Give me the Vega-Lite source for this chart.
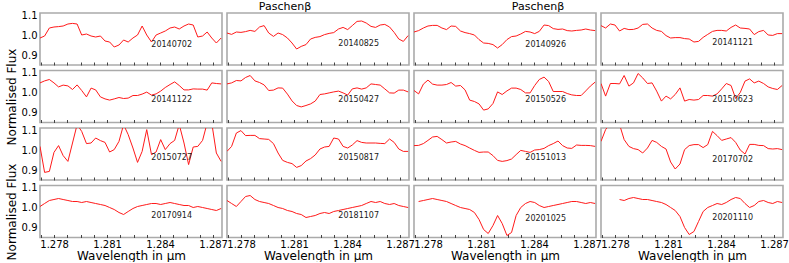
{
"$schema":"https://vega.github.io/schema/vega-lite/v6.json",
"background":"white",
"padding":{"left":4,"top":0,"right":0,"bottom":0},
"datasets":{
"labels":[
{"date":"20140702","wl":1.2835,"flux":0.95},{"date":"20140825","wl":1.2835,"flux":0.957},{"date":"20140926","wl":1.2835,"flux":0.95},{"date":"20141121","wl":1.2835,"flux":0.96},
{"date":"20141122","wl":1.2835,"flux":0.962},{"date":"20150427","wl":1.2835,"flux":0.965},{"date":"20150526","wl":1.2835,"flux":0.965},{"date":"20150623","wl":1.2835,"flux":0.965},
{"date":"20150727","wl":1.2835,"flux":0.96},{"date":"20150817","wl":1.2835,"flux":0.96},{"date":"20151013","wl":1.2835,"flux":0.96},{"date":"20170702","wl":1.2835,"flux":0.95},
{"date":"20170914","wl":1.2835,"flux":0.96},{"date":"20181107","wl":1.2835,"flux":0.96},{"date":"20201025","wl":1.2835,"flux":0.945},{"date":"20201110","wl":1.2835,"flux":0.95}
],
"spectra":[
{"date":"20140702","wl":1.2772,"flux":0.985},{"date":"20140702","wl":1.27746,"flux":0.995},{"date":"20140702","wl":1.27773,"flux":1.035},{"date":"20140702","wl":1.27799,"flux":1.04},{"date":"20140702","wl":1.27825,"flux":1.042},{"date":"20140702","wl":1.27851,"flux":1.045},{"date":"20140702","wl":1.27878,"flux":1.055},{"date":"20140702","wl":1.27904,"flux":1.058},{"date":"20140702","wl":1.2793,"flux":1.055},{"date":"20140702","wl":1.27956,"flux":1.0},{"date":"20140702","wl":1.27983,"flux":1.005},{"date":"20140702","wl":1.28009,"flux":0.995},{"date":"20140702","wl":1.28035,"flux":0.99},{"date":"20140702","wl":1.28062,"flux":0.995},{"date":"20140702","wl":1.28088,"flux":0.97},{"date":"20140702","wl":1.28114,"flux":0.965},{"date":"20140702","wl":1.2814,"flux":0.94},{"date":"20140702","wl":1.28167,"flux":0.95},{"date":"20140702","wl":1.28193,"flux":0.975},{"date":"20140702","wl":1.28219,"flux":0.965},{"date":"20140702","wl":1.28246,"flux":0.985},{"date":"20140702","wl":1.28272,"flux":1.0},{"date":"20140702","wl":1.28298,"flux":1.045},{"date":"20140702","wl":1.28324,"flux":1.0},{"date":"20140702","wl":1.28351,"flux":0.965},{"date":"20140702","wl":1.28377,"flux":1.0},{"date":"20140702","wl":1.28403,"flux":1.01},{"date":"20140702","wl":1.28429,"flux":1.02},{"date":"20140702","wl":1.28456,"flux":1.035},{"date":"20140702","wl":1.28482,"flux":1.04},{"date":"20140702","wl":1.28508,"flux":1.03},{"date":"20140702","wl":1.28535,"flux":1.045},{"date":"20140702","wl":1.28561,"flux":1.055},{"date":"20140702","wl":1.28587,"flux":1.05},{"date":"20140702","wl":1.28613,"flux":0.99},{"date":"20140702","wl":1.2864,"flux":0.995},{"date":"20140702","wl":1.28666,"flux":1.015},{"date":"20140702","wl":1.28692,"flux":0.985},{"date":"20140702","wl":1.28718,"flux":0.96},{"date":"20140702","wl":1.28745,"flux":0.985},
{"date":"20140825","wl":1.2772,"flux":1.01},{"date":"20140825","wl":1.27746,"flux":1.003},{"date":"20140825","wl":1.27773,"flux":1.015},{"date":"20140825","wl":1.27799,"flux":1.013},{"date":"20140825","wl":1.27825,"flux":1.017},{"date":"20140825","wl":1.27851,"flux":1.023},{"date":"20140825","wl":1.27878,"flux":1.018},{"date":"20140825","wl":1.27904,"flux":1.04},{"date":"20140825","wl":1.2793,"flux":1.047},{"date":"20140825","wl":1.27956,"flux":1.01},{"date":"20140825","wl":1.27983,"flux":0.993},{"date":"20140825","wl":1.28009,"flux":1.01},{"date":"20140825","wl":1.28035,"flux":1.002},{"date":"20140825","wl":1.28062,"flux":0.985},{"date":"20140825","wl":1.28088,"flux":0.96},{"date":"20140825","wl":1.28114,"flux":0.93},{"date":"20140825","wl":1.2814,"flux":0.943},{"date":"20140825","wl":1.28167,"flux":0.952},{"date":"20140825","wl":1.28193,"flux":0.98},{"date":"20140825","wl":1.28219,"flux":0.988},{"date":"20140825","wl":1.28246,"flux":0.992},{"date":"20140825","wl":1.28272,"flux":1.002},{"date":"20140825","wl":1.28298,"flux":1.008},{"date":"20140825","wl":1.28324,"flux":1.012},{"date":"20140825","wl":1.28351,"flux":1.03},{"date":"20140825","wl":1.28377,"flux":1.038},{"date":"20140825","wl":1.28403,"flux":1.027},{"date":"20140825","wl":1.28429,"flux":1.047},{"date":"20140825","wl":1.28456,"flux":1.068},{"date":"20140825","wl":1.28482,"flux":1.07},{"date":"20140825","wl":1.28508,"flux":1.06},{"date":"20140825","wl":1.28535,"flux":1.043},{"date":"20140825","wl":1.28561,"flux":1.038},{"date":"20140825","wl":1.28587,"flux":1.05},{"date":"20140825","wl":1.28613,"flux":1.053},{"date":"20140825","wl":1.2864,"flux":1.04},{"date":"20140825","wl":1.28666,"flux":1.013},{"date":"20140825","wl":1.28692,"flux":0.98},{"date":"20140825","wl":1.28718,"flux":0.968},{"date":"20140825","wl":1.28745,"flux":0.997},
{"date":"20140926","wl":1.2772,"flux":1.015},{"date":"20140926","wl":1.27746,"flux":1.022},{"date":"20140926","wl":1.27773,"flux":1.035},{"date":"20140926","wl":1.27799,"flux":1.045},{"date":"20140926","wl":1.27825,"flux":1.048},{"date":"20140926","wl":1.27851,"flux":1.048},{"date":"20140926","wl":1.27878,"flux":1.035},{"date":"20140926","wl":1.27904,"flux":1.027},{"date":"20140926","wl":1.2793,"flux":1.045},{"date":"20140926","wl":1.27956,"flux":1.043},{"date":"20140926","wl":1.27983,"flux":1.02},{"date":"20140926","wl":1.28009,"flux":1.012},{"date":"20140926","wl":1.28035,"flux":1.007},{"date":"20140926","wl":1.28062,"flux":1.0},{"date":"20140926","wl":1.28088,"flux":0.977},{"date":"20140926","wl":1.28114,"flux":0.96},{"date":"20140926","wl":1.2814,"flux":0.958},{"date":"20140926","wl":1.28167,"flux":0.952},{"date":"20140926","wl":1.28193,"flux":0.935},{"date":"20140926","wl":1.28219,"flux":0.952},{"date":"20140926","wl":1.28246,"flux":0.977},{"date":"20140926","wl":1.28272,"flux":0.992},{"date":"20140926","wl":1.28298,"flux":0.995},{"date":"20140926","wl":1.28324,"flux":1.005},{"date":"20140926","wl":1.28351,"flux":1.018},{"date":"20140926","wl":1.28377,"flux":1.015},{"date":"20140926","wl":1.28403,"flux":1.007},{"date":"20140926","wl":1.28429,"flux":1.018},{"date":"20140926","wl":1.28456,"flux":1.05},{"date":"20140926","wl":1.28482,"flux":1.047},{"date":"20140926","wl":1.28508,"flux":1.032},{"date":"20140926","wl":1.28535,"flux":1.028},{"date":"20140926","wl":1.28561,"flux":1.03},{"date":"20140926","wl":1.28587,"flux":1.022},{"date":"20140926","wl":1.28613,"flux":1.02},{"date":"20140926","wl":1.2864,"flux":1.023},{"date":"20140926","wl":1.28666,"flux":1.025},{"date":"20140926","wl":1.28692,"flux":1.03},{"date":"20140926","wl":1.28718,"flux":1.025},{"date":"20140926","wl":1.28745,"flux":1.022},
{"date":"20141121","wl":1.2772,"flux":1.047},{"date":"20141121","wl":1.27746,"flux":1.035},{"date":"20141121","wl":1.27773,"flux":1.055},{"date":"20141121","wl":1.27799,"flux":1.05},{"date":"20141121","wl":1.27825,"flux":1.02},{"date":"20141121","wl":1.27851,"flux":1.033},{"date":"20141121","wl":1.27878,"flux":1.027},{"date":"20141121","wl":1.27904,"flux":1.028},{"date":"20141121","wl":1.2793,"flux":1.035},{"date":"20141121","wl":1.27956,"flux":1.053},{"date":"20141121","wl":1.27983,"flux":1.055},{"date":"20141121","wl":1.28009,"flux":1.035},{"date":"20141121","wl":1.28035,"flux":1.023},{"date":"20141121","wl":1.28062,"flux":1.018},{"date":"20141121","wl":1.28088,"flux":0.997},{"date":"20141121","wl":1.28114,"flux":0.985},{"date":"20141121","wl":1.2814,"flux":0.987},{"date":"20141121","wl":1.28167,"flux":0.987},{"date":"20141121","wl":1.28193,"flux":0.982},{"date":"20141121","wl":1.28219,"flux":0.98},{"date":"20141121","wl":1.28246,"flux":0.965},{"date":"20141121","wl":1.28272,"flux":0.968},{"date":"20141121","wl":1.28298,"flux":0.988},{"date":"20141121","wl":1.28324,"flux":1.003},{"date":"20141121","wl":1.28351,"flux":1.018},{"date":"20141121","wl":1.28377,"flux":1.023},{"date":"20141121","wl":1.28403,"flux":1.023},{"date":"20141121","wl":1.28429,"flux":1.02},{"date":"20141121","wl":1.28456,"flux":1.038},{"date":"20141121","wl":1.28482,"flux":1.05},{"date":"20141121","wl":1.28508,"flux":1.035},{"date":"20141121","wl":1.28535,"flux":1.033},{"date":"20141121","wl":1.28561,"flux":1.03},{"date":"20141121","wl":1.28587,"flux":1.002},{"date":"20141121","wl":1.28613,"flux":1.017},{"date":"20141121","wl":1.2864,"flux":1.023},{"date":"20141121","wl":1.28666,"flux":1.0},{"date":"20141121","wl":1.28692,"flux":0.998},{"date":"20141121","wl":1.28718,"flux":1.007},{"date":"20141121","wl":1.28745,"flux":1.007},
{"date":"20141122","wl":1.2772,"flux":1.048},{"date":"20141122","wl":1.27746,"flux":1.058},{"date":"20141122","wl":1.27773,"flux":1.065},{"date":"20141122","wl":1.27799,"flux":1.048},{"date":"20141122","wl":1.27825,"flux":1.028},{"date":"20141122","wl":1.27851,"flux":1.037},{"date":"20141122","wl":1.27878,"flux":1.033},{"date":"20141122","wl":1.27904,"flux":1.015},{"date":"20141122","wl":1.2793,"flux":1.038},{"date":"20141122","wl":1.27956,"flux":1.01},{"date":"20141122","wl":1.27983,"flux":0.978},{"date":"20141122","wl":1.28009,"flux":1.022},{"date":"20141122","wl":1.28035,"flux":1.013},{"date":"20141122","wl":1.28062,"flux":0.978},{"date":"20141122","wl":1.28088,"flux":0.968},{"date":"20141122","wl":1.28114,"flux":0.962},{"date":"20141122","wl":1.2814,"flux":0.968},{"date":"20141122","wl":1.28167,"flux":0.975},{"date":"20141122","wl":1.28193,"flux":0.97},{"date":"20141122","wl":1.28219,"flux":0.972},{"date":"20141122","wl":1.28246,"flux":0.985},{"date":"20141122","wl":1.28272,"flux":0.985},{"date":"20141122","wl":1.28298,"flux":0.992},{"date":"20141122","wl":1.28324,"flux":1.002},{"date":"20141122","wl":1.28351,"flux":0.987},{"date":"20141122","wl":1.28377,"flux":0.993},{"date":"20141122","wl":1.28403,"flux":1.007},{"date":"20141122","wl":1.28429,"flux":1.025},{"date":"20141122","wl":1.28456,"flux":1.04},{"date":"20141122","wl":1.28482,"flux":1.053},{"date":"20141122","wl":1.28508,"flux":1.035},{"date":"20141122","wl":1.28535,"flux":1.013},{"date":"20141122","wl":1.28561,"flux":1.013},{"date":"20141122","wl":1.28587,"flux":1.018},{"date":"20141122","wl":1.28613,"flux":1.017},{"date":"20141122","wl":1.2864,"flux":1.017},{"date":"20141122","wl":1.28666,"flux":1.012},{"date":"20141122","wl":1.28692,"flux":1.048},{"date":"20141122","wl":1.28718,"flux":1.045},{"date":"20141122","wl":1.28745,"flux":1.043},
{"date":"20150427","wl":1.2772,"flux":1.043},{"date":"20150427","wl":1.27746,"flux":1.048},{"date":"20150427","wl":1.27773,"flux":1.06},{"date":"20150427","wl":1.27799,"flux":1.058},{"date":"20150427","wl":1.27825,"flux":1.075},{"date":"20150427","wl":1.27851,"flux":1.085},{"date":"20150427","wl":1.27878,"flux":1.058},{"date":"20150427","wl":1.27904,"flux":1.05},{"date":"20150427","wl":1.2793,"flux":1.038},{"date":"20150427","wl":1.27956,"flux":1.01},{"date":"20150427","wl":1.27983,"flux":1.012},{"date":"20150427","wl":1.28009,"flux":1.023},{"date":"20150427","wl":1.28035,"flux":1.022},{"date":"20150427","wl":1.28062,"flux":0.992},{"date":"20150427","wl":1.28088,"flux":0.958},{"date":"20150427","wl":1.28114,"flux":0.935},{"date":"20150427","wl":1.2814,"flux":0.928},{"date":"20150427","wl":1.28167,"flux":0.935},{"date":"20150427","wl":1.28193,"flux":0.943},{"date":"20150427","wl":1.28219,"flux":0.957},{"date":"20150427","wl":1.28246,"flux":0.99},{"date":"20150427","wl":1.28272,"flux":0.993},{"date":"20150427","wl":1.28298,"flux":0.998},{"date":"20150427","wl":1.28324,"flux":1.003},{"date":"20150427","wl":1.28351,"flux":1.007},{"date":"20150427","wl":1.28377,"flux":0.998},{"date":"20150427","wl":1.28403,"flux":0.987},{"date":"20150427","wl":1.28429,"flux":1.018},{"date":"20150427","wl":1.28456,"flux":1.023},{"date":"20150427","wl":1.28482,"flux":1.017},{"date":"20150427","wl":1.28508,"flux":1.023},{"date":"20150427","wl":1.28535,"flux":1.043},{"date":"20150427","wl":1.28561,"flux":1.04},{"date":"20150427","wl":1.28587,"flux":1.037},{"date":"20150427","wl":1.28613,"flux":1.018},{"date":"20150427","wl":1.2864,"flux":0.998},{"date":"20150427","wl":1.28666,"flux":0.997},{"date":"20150427","wl":1.28692,"flux":1.012},{"date":"20150427","wl":1.28718,"flux":1.012},{"date":"20150427","wl":1.28745,"flux":1.003},
{"date":"20150526","wl":1.2772,"flux":1.01},{"date":"20150526","wl":1.27746,"flux":0.993},{"date":"20150526","wl":1.27773,"flux":1.042},{"date":"20150526","wl":1.27799,"flux":1.062},{"date":"20150526","wl":1.27825,"flux":1.042},{"date":"20150526","wl":1.27851,"flux":1.037},{"date":"20150526","wl":1.27878,"flux":1.037},{"date":"20150526","wl":1.27904,"flux":1.04},{"date":"20150526","wl":1.2793,"flux":1.05},{"date":"20150526","wl":1.27956,"flux":1.032},{"date":"20150526","wl":1.27983,"flux":1.035},{"date":"20150526","wl":1.28009,"flux":1.013},{"date":"20150526","wl":1.28035,"flux":0.962},{"date":"20150526","wl":1.28062,"flux":0.955},{"date":"20150526","wl":1.28088,"flux":0.943},{"date":"20150526","wl":1.28114,"flux":0.912},{"date":"20150526","wl":1.2814,"flux":0.918},{"date":"20150526","wl":1.28167,"flux":0.945},{"date":"20150526","wl":1.28193,"flux":1.003},{"date":"20150526","wl":1.28219,"flux":0.99},{"date":"20150526","wl":1.28246,"flux":1.008},{"date":"20150526","wl":1.28272,"flux":1.022},{"date":"20150526","wl":1.28298,"flux":1.022},{"date":"20150526","wl":1.28324,"flux":1.015},{"date":"20150526","wl":1.28351,"flux":0.998},{"date":"20150526","wl":1.28377,"flux":0.998},{"date":"20150526","wl":1.28403,"flux":1.035},{"date":"20150526","wl":1.28429,"flux":1.065},{"date":"20150526","wl":1.28456,"flux":1.077},{"date":"20150526","wl":1.28482,"flux":1.055},{"date":"20150526","wl":1.28508,"flux":1.005},{"date":"20150526","wl":1.28535,"flux":1.005},{"date":"20150526","wl":1.28561,"flux":1.005},{"date":"20150526","wl":1.28587,"flux":0.995},{"date":"20150526","wl":1.28613,"flux":0.988},{"date":"20150526","wl":1.2864,"flux":0.985},{"date":"20150526","wl":1.28666,"flux":0.985},{"date":"20150526","wl":1.28692,"flux":1.008},{"date":"20150526","wl":1.28718,"flux":1.032},{"date":"20150526","wl":1.28745,"flux":1.052},
{"date":"20150623","wl":1.2772,"flux":1.045},{"date":"20150623","wl":1.27746,"flux":0.982},{"date":"20150623","wl":1.27773,"flux":1.045},{"date":"20150623","wl":1.27799,"flux":1.045},{"date":"20150623","wl":1.27825,"flux":1.043},{"date":"20150623","wl":1.27851,"flux":1.085},{"date":"20150623","wl":1.27878,"flux":1.032},{"date":"20150623","wl":1.27904,"flux":1.048},{"date":"20150623","wl":1.2793,"flux":1.095},{"date":"20150623","wl":1.27956,"flux":1.073},{"date":"20150623","wl":1.27983,"flux":1.045},{"date":"20150623","wl":1.28009,"flux":1.048},{"date":"20150623","wl":1.28035,"flux":1.007},{"date":"20150623","wl":1.28062,"flux":0.957},{"date":"20150623","wl":1.28088,"flux":0.982},{"date":"20150623","wl":1.28114,"flux":0.968},{"date":"20150623","wl":1.2814,"flux":0.99},{"date":"20150623","wl":1.28167,"flux":1.023},{"date":"20150623","wl":1.28193,"flux":0.957},{"date":"20150623","wl":1.28219,"flux":0.965},{"date":"20150623","wl":1.28246,"flux":0.962},{"date":"20150623","wl":1.28272,"flux":0.965},{"date":"20150623","wl":1.28298,"flux":0.985},{"date":"20150623","wl":1.28324,"flux":0.985},{"date":"20150623","wl":1.28351,"flux":0.982},{"date":"20150623","wl":1.28377,"flux":0.993},{"date":"20150623","wl":1.28403,"flux":1.018},{"date":"20150623","wl":1.28429,"flux":1.045},{"date":"20150623","wl":1.28456,"flux":1.035},{"date":"20150623","wl":1.28482,"flux":0.97},{"date":"20150623","wl":1.28508,"flux":1.0},{"date":"20150623","wl":1.28535,"flux":1.057},{"date":"20150623","wl":1.28561,"flux":1.068},{"date":"20150623","wl":1.28587,"flux":1.048},{"date":"20150623","wl":1.28613,"flux":1.057},{"date":"20150623","wl":1.2864,"flux":1.045},{"date":"20150623","wl":1.28666,"flux":1.028},{"date":"20150623","wl":1.28692,"flux":1.02},{"date":"20150623","wl":1.28718,"flux":1.015},{"date":"20150623","wl":1.28745,"flux":1.035},
{"date":"20150727","wl":1.2772,"flux":1.018},{"date":"20150727","wl":1.27746,"flux":0.888},{"date":"20150727","wl":1.27773,"flux":0.893},{"date":"20150727","wl":1.27799,"flux":0.988},{"date":"20150727","wl":1.27825,"flux":1.022},{"date":"20150727","wl":1.27851,"flux":0.972},{"date":"20150727","wl":1.27878,"flux":0.943},{"date":"20150727","wl":1.27904,"flux":1.035},{"date":"20150727","wl":1.2793,"flux":1.127},{"date":"20150727","wl":1.27956,"flux":1.093},{"date":"20150727","wl":1.27983,"flux":1.032},{"date":"20150727","wl":1.28009,"flux":1.035},{"date":"20150727","wl":1.28035,"flux":1.06},{"date":"20150727","wl":1.28062,"flux":1.047},{"date":"20150727","wl":1.28088,"flux":1.038},{"date":"20150727","wl":1.28114,"flux":0.99},{"date":"20150727","wl":1.2814,"flux":1.002},{"date":"20150727","wl":1.28167,"flux":1.043},{"date":"20150727","wl":1.28193,"flux":1.127},{"date":"20150727","wl":1.28219,"flux":1.077},{"date":"20150727","wl":1.28246,"flux":1.01},{"date":"20150727","wl":1.28272,"flux":0.938},{"date":"20150727","wl":1.28298,"flux":0.993},{"date":"20150727","wl":1.28324,"flux":1.102},{"date":"20150727","wl":1.28351,"flux":0.977},{"date":"20150727","wl":1.28377,"flux":0.99},{"date":"20150727","wl":1.28403,"flux":1.052},{"date":"20150727","wl":1.28429,"flux":1.002},{"date":"20150727","wl":1.28456,"flux":1.032},{"date":"20150727","wl":1.28482,"flux":1.048},{"date":"20150727","wl":1.28508,"flux":1.127},{"date":"20150727","wl":1.28535,"flux":1.035},{"date":"20150727","wl":1.28561,"flux":0.927},{"date":"20150727","wl":1.28587,"flux":1.015},{"date":"20150727","wl":1.28613,"flux":1.018},{"date":"20150727","wl":1.2864,"flux":1.048},{"date":"20150727","wl":1.28666,"flux":1.135},{"date":"20150727","wl":1.28692,"flux":1.135},{"date":"20150727","wl":1.28718,"flux":0.985},{"date":"20150727","wl":1.28745,"flux":0.943},
{"date":"20150817","wl":1.2772,"flux":0.993},{"date":"20150817","wl":1.27746,"flux":1.018},{"date":"20150817","wl":1.27773,"flux":1.085},{"date":"20150817","wl":1.27799,"flux":1.097},{"date":"20150817","wl":1.27825,"flux":1.072},{"date":"20150817","wl":1.27851,"flux":1.073},{"date":"20150817","wl":1.27878,"flux":1.073},{"date":"20150817","wl":1.27904,"flux":1.057},{"date":"20150817","wl":1.2793,"flux":1.055},{"date":"20150817","wl":1.27956,"flux":1.053},{"date":"20150817","wl":1.27983,"flux":1.032},{"date":"20150817","wl":1.28009,"flux":0.985},{"date":"20150817","wl":1.28035,"flux":0.948},{"date":"20150817","wl":1.28062,"flux":0.938},{"date":"20150817","wl":1.28088,"flux":0.932},{"date":"20150817","wl":1.28114,"flux":0.913},{"date":"20150817","wl":1.2814,"flux":0.922},{"date":"20150817","wl":1.28167,"flux":0.945},{"date":"20150817","wl":1.28193,"flux":0.957},{"date":"20150817","wl":1.28219,"flux":0.975},{"date":"20150817","wl":1.28246,"flux":1.005},{"date":"20150817","wl":1.28272,"flux":1.015},{"date":"20150817","wl":1.28298,"flux":1.018},{"date":"20150817","wl":1.28324,"flux":1.06},{"date":"20150817","wl":1.28351,"flux":1.055},{"date":"20150817","wl":1.28377,"flux":1.018},{"date":"20150817","wl":1.28403,"flux":1.01},{"date":"20150817","wl":1.28429,"flux":1.025},{"date":"20150817","wl":1.28456,"flux":1.047},{"date":"20150817","wl":1.28482,"flux":1.038},{"date":"20150817","wl":1.28508,"flux":1.035},{"date":"20150817","wl":1.28535,"flux":1.035},{"date":"20150817","wl":1.28561,"flux":1.035},{"date":"20150817","wl":1.28587,"flux":1.033},{"date":"20150817","wl":1.28613,"flux":1.032},{"date":"20150817","wl":1.2864,"flux":1.055},{"date":"20150817","wl":1.28666,"flux":1.038},{"date":"20150817","wl":1.28692,"flux":1.005},{"date":"20150817","wl":1.28718,"flux":0.993},{"date":"20150817","wl":1.28745,"flux":0.993},
{"date":"20151013","wl":1.2772,"flux":1.022},{"date":"20151013","wl":1.27746,"flux":1.023},{"date":"20151013","wl":1.27773,"flux":1.032},{"date":"20151013","wl":1.27799,"flux":1.048},{"date":"20151013","wl":1.27825,"flux":1.065},{"date":"20151013","wl":1.27851,"flux":1.068},{"date":"20151013","wl":1.27878,"flux":1.052},{"date":"20151013","wl":1.27904,"flux":1.035},{"date":"20151013","wl":1.2793,"flux":1.04},{"date":"20151013","wl":1.27956,"flux":1.043},{"date":"20151013","wl":1.27983,"flux":1.03},{"date":"20151013","wl":1.28009,"flux":1.022},{"date":"20151013","wl":1.28035,"flux":1.01},{"date":"20151013","wl":1.28062,"flux":0.998},{"date":"20151013","wl":1.28088,"flux":0.988},{"date":"20151013","wl":1.28114,"flux":0.99},{"date":"20151013","wl":1.2814,"flux":0.99},{"date":"20151013","wl":1.28167,"flux":0.972},{"date":"20151013","wl":1.28193,"flux":0.948},{"date":"20151013","wl":1.28219,"flux":0.943},{"date":"20151013","wl":1.28246,"flux":0.947},{"date":"20151013","wl":1.28272,"flux":0.955},{"date":"20151013","wl":1.28298,"flux":0.977},{"date":"20151013","wl":1.28324,"flux":0.998},{"date":"20151013","wl":1.28351,"flux":0.993},{"date":"20151013","wl":1.28377,"flux":0.988},{"date":"20151013","wl":1.28403,"flux":1.0},{"date":"20151013","wl":1.28429,"flux":1.002},{"date":"20151013","wl":1.28456,"flux":1.008},{"date":"20151013","wl":1.28482,"flux":1.022},{"date":"20151013","wl":1.28508,"flux":1.032},{"date":"20151013","wl":1.28535,"flux":1.045},{"date":"20151013","wl":1.28561,"flux":1.022},{"date":"20151013","wl":1.28587,"flux":1.01},{"date":"20151013","wl":1.28613,"flux":1.008},{"date":"20151013","wl":1.2864,"flux":1.025},{"date":"20151013","wl":1.28666,"flux":1.023},{"date":"20151013","wl":1.28692,"flux":1.023},{"date":"20151013","wl":1.28718,"flux":1.022},{"date":"20151013","wl":1.28745,"flux":1.018},
{"date":"20170702","wl":1.2772,"flux":1.043},{"date":"20170702","wl":1.27746,"flux":1.102},{"date":"20170702","wl":1.27773,"flux":1.132},{"date":"20170702","wl":1.27799,"flux":1.132},{"date":"20170702","wl":1.27825,"flux":1.127},{"date":"20170702","wl":1.27851,"flux":1.052},{"date":"20170702","wl":1.27878,"flux":1.018},{"date":"20170702","wl":1.27904,"flux":1.007},{"date":"20170702","wl":1.2793,"flux":1.002},{"date":"20170702","wl":1.27956,"flux":0.985},{"date":"20170702","wl":1.27983,"flux":1.01},{"date":"20170702","wl":1.28009,"flux":1.048},{"date":"20170702","wl":1.28035,"flux":1.038},{"date":"20170702","wl":1.28062,"flux":1.018},{"date":"20170702","wl":1.28088,"flux":1.005},{"date":"20170702","wl":1.28114,"flux":0.94},{"date":"20170702","wl":1.2814,"flux":0.905},{"date":"20170702","wl":1.28167,"flux":0.93},{"date":"20170702","wl":1.28193,"flux":1.002},{"date":"20170702","wl":1.28219,"flux":1.022},{"date":"20170702","wl":1.28246,"flux":1.027},{"date":"20170702","wl":1.28272,"flux":1.027},{"date":"20170702","wl":1.28298,"flux":1.012},{"date":"20170702","wl":1.28324,"flux":1.027},{"date":"20170702","wl":1.28351,"flux":1.093},{"date":"20170702","wl":1.28377,"flux":1.072},{"date":"20170702","wl":1.28403,"flux":1.048},{"date":"20170702","wl":1.28429,"flux":1.055},{"date":"20170702","wl":1.28456,"flux":1.062},{"date":"20170702","wl":1.28482,"flux":1.038},{"date":"20170702","wl":1.28508,"flux":1.0},{"date":"20170702","wl":1.28535,"flux":0.98},{"date":"20170702","wl":1.28561,"flux":1.028},{"date":"20170702","wl":1.28587,"flux":1.028},{"date":"20170702","wl":1.28613,"flux":1.023},{"date":"20170702","wl":1.2864,"flux":1.022},{"date":"20170702","wl":1.28666,"flux":1.007},{"date":"20170702","wl":1.28692,"flux":1.005},{"date":"20170702","wl":1.28718,"flux":1.007},{"date":"20170702","wl":1.28745,"flux":1.002},
{"date":"20170914","wl":1.2772,"flux":1.005},{"date":"20170914","wl":1.27746,"flux":1.02},{"date":"20170914","wl":1.27773,"flux":1.035},{"date":"20170914","wl":1.27799,"flux":1.04},{"date":"20170914","wl":1.27825,"flux":1.045},{"date":"20170914","wl":1.27851,"flux":1.04},{"date":"20170914","wl":1.27878,"flux":1.035},{"date":"20170914","wl":1.27904,"flux":1.03},{"date":"20170914","wl":1.2793,"flux":1.03},{"date":"20170914","wl":1.27956,"flux":1.025},{"date":"20170914","wl":1.27983,"flux":1.03},{"date":"20170914","wl":1.28009,"flux":1.025},{"date":"20170914","wl":1.28035,"flux":1.02},{"date":"20170914","wl":1.28062,"flux":1.015},{"date":"20170914","wl":1.28088,"flux":1.01},{"date":"20170914","wl":1.28114,"flux":1.0},{"date":"20170914","wl":1.2814,"flux":0.99},{"date":"20170914","wl":1.28167,"flux":0.975},{"date":"20170914","wl":1.28193,"flux":0.965},{"date":"20170914","wl":1.28219,"flux":0.98},{"date":"20170914","wl":1.28246,"flux":0.995},{"date":"20170914","wl":1.28272,"flux":1.005},{"date":"20170914","wl":1.28298,"flux":1.01},{"date":"20170914","wl":1.28324,"flux":1.015},{"date":"20170914","wl":1.28351,"flux":1.02},{"date":"20170914","wl":1.28377,"flux":1.02},{"date":"20170914","wl":1.28403,"flux":1.015},{"date":"20170914","wl":1.28429,"flux":1.02},{"date":"20170914","wl":1.28456,"flux":1.025},{"date":"20170914","wl":1.28482,"flux":1.02},{"date":"20170914","wl":1.28508,"flux":1.015},{"date":"20170914","wl":1.28535,"flux":1.01},{"date":"20170914","wl":1.28561,"flux":1.01},{"date":"20170914","wl":1.28587,"flux":1.0},{"date":"20170914","wl":1.28613,"flux":1.005},{"date":"20170914","wl":1.2864,"flux":1.0},{"date":"20170914","wl":1.28666,"flux":0.995},{"date":"20170914","wl":1.28692,"flux":0.99},{"date":"20170914","wl":1.28718,"flux":0.985},{"date":"20170914","wl":1.28745,"flux":0.995},
{"date":"20181107","wl":1.2772,"flux":1.035},{"date":"20181107","wl":1.27746,"flux":1.02},{"date":"20181107","wl":1.27773,"flux":1.005},{"date":"20181107","wl":1.27799,"flux":1.03},{"date":"20181107","wl":1.27825,"flux":1.055},{"date":"20181107","wl":1.27851,"flux":1.06},{"date":"20181107","wl":1.27878,"flux":1.04},{"date":"20181107","wl":1.27904,"flux":1.03},{"date":"20181107","wl":1.2793,"flux":1.025},{"date":"20181107","wl":1.27956,"flux":1.02},{"date":"20181107","wl":1.27983,"flux":1.01},{"date":"20181107","wl":1.28009,"flux":1.0},{"date":"20181107","wl":1.28035,"flux":0.995},{"date":"20181107","wl":1.28062,"flux":0.985},{"date":"20181107","wl":1.28088,"flux":0.98},{"date":"20181107","wl":1.28114,"flux":0.97},{"date":"20181107","wl":1.2814,"flux":0.965},{"date":"20181107","wl":1.28167,"flux":0.95},{"date":"20181107","wl":1.28193,"flux":0.955},{"date":"20181107","wl":1.28219,"flux":0.96},{"date":"20181107","wl":1.28246,"flux":0.97},{"date":"20181107","wl":1.28272,"flux":0.975},{"date":"20181107","wl":1.28298,"flux":0.97},{"date":"20181107","wl":1.28324,"flux":0.98},{"date":"20181107","wl":1.28351,"flux":0.985},{"date":"20181107","wl":1.28377,"flux":0.99},{"date":"20181107","wl":1.28403,"flux":0.995},{"date":"20181107","wl":1.28429,"flux":1.0},{"date":"20181107","wl":1.28456,"flux":1.005},{"date":"20181107","wl":1.28482,"flux":1.01},{"date":"20181107","wl":1.28508,"flux":1.02},{"date":"20181107","wl":1.28535,"flux":1.03},{"date":"20181107","wl":1.28561,"flux":1.025},{"date":"20181107","wl":1.28587,"flux":1.03},{"date":"20181107","wl":1.28613,"flux":1.02},{"date":"20181107","wl":1.2864,"flux":1.015},{"date":"20181107","wl":1.28666,"flux":1.02},{"date":"20181107","wl":1.28692,"flux":1.01},{"date":"20181107","wl":1.28718,"flux":1.005},{"date":"20181107","wl":1.28745,"flux":1.0},
{"date":"20201025","wl":1.27746,"flux":1.03},{"date":"20201025","wl":1.27773,"flux":1.035},{"date":"20201025","wl":1.27799,"flux":1.04},{"date":"20201025","wl":1.27825,"flux":1.045},{"date":"20201025","wl":1.27851,"flux":1.04},{"date":"20201025","wl":1.27878,"flux":1.035},{"date":"20201025","wl":1.27904,"flux":1.03},{"date":"20201025","wl":1.2793,"flux":1.02},{"date":"20201025","wl":1.27956,"flux":1.01},{"date":"20201025","wl":1.27983,"flux":1.0},{"date":"20201025","wl":1.28009,"flux":0.995},{"date":"20201025","wl":1.28035,"flux":0.99},{"date":"20201025","wl":1.28062,"flux":0.975},{"date":"20201025","wl":1.28088,"flux":0.94},{"date":"20201025","wl":1.28114,"flux":0.89},{"date":"20201025","wl":1.2814,"flux":0.87},{"date":"20201025","wl":1.28167,"flux":0.91},{"date":"20201025","wl":1.28193,"flux":0.96},{"date":"20201025","wl":1.28219,"flux":0.92},{"date":"20201025","wl":1.28246,"flux":0.86},{"date":"20201025","wl":1.28272,"flux":0.875},{"date":"20201025","wl":1.28298,"flux":0.96},{"date":"20201025","wl":1.28324,"flux":1.0},{"date":"20201025","wl":1.28351,"flux":1.02},{"date":"20201025","wl":1.28377,"flux":1.03},{"date":"20201025","wl":1.28403,"flux":1.025},{"date":"20201025","wl":1.28429,"flux":1.01},{"date":"20201025","wl":1.28456,"flux":1.0},{"date":"20201025","wl":1.28482,"flux":1.005},{"date":"20201025","wl":1.28508,"flux":1.01},{"date":"20201025","wl":1.28535,"flux":1.015},{"date":"20201025","wl":1.28561,"flux":1.02},{"date":"20201025","wl":1.28587,"flux":1.025},{"date":"20201025","wl":1.28613,"flux":1.03},{"date":"20201025","wl":1.2864,"flux":1.03},{"date":"20201025","wl":1.28666,"flux":1.025},{"date":"20201025","wl":1.28692,"flux":1.02},{"date":"20201025","wl":1.28718,"flux":1.025},{"date":"20201025","wl":1.28745,"flux":1.02},
{"date":"20201110","wl":1.27825,"flux":1.04},{"date":"20201110","wl":1.27851,"flux":1.035},{"date":"20201110","wl":1.27878,"flux":1.045},{"date":"20201110","wl":1.27904,"flux":1.05},{"date":"20201110","wl":1.2793,"flux":1.045},{"date":"20201110","wl":1.27956,"flux":1.04},{"date":"20201110","wl":1.27983,"flux":1.04},{"date":"20201110","wl":1.28009,"flux":1.035},{"date":"20201110","wl":1.28035,"flux":1.03},{"date":"20201110","wl":1.28062,"flux":1.025},{"date":"20201110","wl":1.28088,"flux":1.015},{"date":"20201110","wl":1.28114,"flux":1.0},{"date":"20201110","wl":1.2814,"flux":0.985},{"date":"20201110","wl":1.28167,"flux":0.955},{"date":"20201110","wl":1.28193,"flux":0.9},{"date":"20201110","wl":1.28219,"flux":0.865},{"date":"20201110","wl":1.28246,"flux":0.88},{"date":"20201110","wl":1.28272,"flux":0.93},{"date":"20201110","wl":1.28298,"flux":0.98},{"date":"20201110","wl":1.28324,"flux":1.0},{"date":"20201110","wl":1.28351,"flux":1.01},{"date":"20201110","wl":1.28377,"flux":1.02},{"date":"20201110","wl":1.28403,"flux":1.015},{"date":"20201110","wl":1.28429,"flux":1.025},{"date":"20201110","wl":1.28456,"flux":1.04},{"date":"20201110","wl":1.28482,"flux":1.05},{"date":"20201110","wl":1.28508,"flux":1.045},{"date":"20201110","wl":1.28535,"flux":1.02},{"date":"20201110","wl":1.28561,"flux":1.0},{"date":"20201110","wl":1.28587,"flux":1.01},{"date":"20201110","wl":1.28613,"flux":1.03},{"date":"20201110","wl":1.2864,"flux":1.035},{"date":"20201110","wl":1.28666,"flux":1.025},{"date":"20201110","wl":1.28692,"flux":1.02},{"date":"20201110","wl":1.28718,"flux":1.03},{"date":"20201110","wl":1.28745,"flux":1.025}
]
},
"columns":4,
"spacing":{"row":5.5,"column":5},
"bounds":"flush",
"concat":[
{"width":182,"height":52,"encoding":{"x":{"field":"wl","type":"quantitative","scale":{"domain":[1.2772,1.2875],"nice":false,"zero":false},"axis":{"values":[1.27725,1.278,1.27875,1.2795,1.28025,1.281,1.28175,1.2825,1.28325,1.284,1.28475,1.2855,1.28625,1.287],"labels":false,"title":null,"offset":-3,"tickSize":3}},"y":{"field":"flux","type":"quantitative","scale":{"domain":[0.85,1.11],"nice":false,"zero":false},"axis":{"values":[0.9,1.0,1.1],"format":".1f","title":null}}},
"layer":[{"data":{"name":"spectra"},"transform":[{"filter":"datum.date==='20140702'"}],"mark":{"type":"line","color":"#ff1a1a","strokeWidth":1,"clip":true}},{"data":{"name":"labels"},"transform":[{"filter":"datum.date==='20140702'"}],"mark":{"type":"text","align":"left","baseline":"middle","fontSize":8,"color":"#1a1a1a"},"encoding":{"text":{"field":"date","type":"nominal"}}}]},
{"width":182,"height":52,"title":{"text":"Paschenβ","dx":-33},"encoding":{"x":{"field":"wl","type":"quantitative","scale":{"domain":[1.2772,1.2875],"nice":false,"zero":false},"axis":{"values":[1.27725,1.278,1.27875,1.2795,1.28025,1.281,1.28175,1.2825,1.28325,1.284,1.28475,1.2855,1.28625,1.287],"labels":false,"title":null,"offset":-3,"tickSize":3}},"y":{"field":"flux","type":"quantitative","scale":{"domain":[0.85,1.11],"nice":false,"zero":false},"axis":null}},
"layer":[{"data":{"name":"spectra"},"transform":[{"filter":"datum.date==='20140825'"}],"mark":{"type":"line","color":"#ff1a1a","strokeWidth":1,"clip":true}},{"data":{"name":"labels"},"transform":[{"filter":"datum.date==='20140825'"}],"mark":{"type":"text","align":"left","baseline":"middle","fontSize":8,"color":"#1a1a1a"},"encoding":{"text":{"field":"date","type":"nominal"}}}]},
{"width":182,"height":52,"title":{"text":"Paschenβ","dx":33},"encoding":{"x":{"field":"wl","type":"quantitative","scale":{"domain":[1.2772,1.2875],"nice":false,"zero":false},"axis":{"values":[1.27725,1.278,1.27875,1.2795,1.28025,1.281,1.28175,1.2825,1.28325,1.284,1.28475,1.2855,1.28625,1.287],"labels":false,"title":null,"offset":-3,"tickSize":3}},"y":{"field":"flux","type":"quantitative","scale":{"domain":[0.85,1.11],"nice":false,"zero":false},"axis":null}},
"layer":[{"data":{"name":"spectra"},"transform":[{"filter":"datum.date==='20140926'"}],"mark":{"type":"line","color":"#ff1a1a","strokeWidth":1,"clip":true}},{"data":{"name":"labels"},"transform":[{"filter":"datum.date==='20140926'"}],"mark":{"type":"text","align":"left","baseline":"middle","fontSize":8,"color":"#1a1a1a"},"encoding":{"text":{"field":"date","type":"nominal"}}}]},
{"width":182,"height":52,"encoding":{"x":{"field":"wl","type":"quantitative","scale":{"domain":[1.2772,1.2875],"nice":false,"zero":false},"axis":{"values":[1.27725,1.278,1.27875,1.2795,1.28025,1.281,1.28175,1.2825,1.28325,1.284,1.28475,1.2855,1.28625,1.287],"labels":false,"title":null,"offset":-3,"tickSize":3}},"y":{"field":"flux","type":"quantitative","scale":{"domain":[0.85,1.11],"nice":false,"zero":false},"axis":null}},
"layer":[{"data":{"name":"spectra"},"transform":[{"filter":"datum.date==='20141121'"}],"mark":{"type":"line","color":"#ff1a1a","strokeWidth":1,"clip":true}},{"data":{"name":"labels"},"transform":[{"filter":"datum.date==='20141121'"}],"mark":{"type":"text","align":"left","baseline":"middle","fontSize":8,"color":"#1a1a1a"},"encoding":{"text":{"field":"date","type":"nominal"}}}]},
{"width":182,"height":52,"encoding":{"x":{"field":"wl","type":"quantitative","scale":{"domain":[1.2772,1.2875],"nice":false,"zero":false},"axis":{"values":[1.27725,1.278,1.27875,1.2795,1.28025,1.281,1.28175,1.2825,1.28325,1.284,1.28475,1.2855,1.28625,1.287],"labels":false,"title":null,"offset":-3,"tickSize":3}},"y":{"field":"flux","type":"quantitative","scale":{"domain":[0.85,1.11],"nice":false,"zero":false},"axis":{"values":[0.9,1.0,1.1],"format":".1f","title":"Normalised Flux"}}},
"layer":[{"data":{"name":"spectra"},"transform":[{"filter":"datum.date==='20141122'"}],"mark":{"type":"line","color":"#ff1a1a","strokeWidth":1,"clip":true}},{"data":{"name":"labels"},"transform":[{"filter":"datum.date==='20141122'"}],"mark":{"type":"text","align":"left","baseline":"middle","fontSize":8,"color":"#1a1a1a"},"encoding":{"text":{"field":"date","type":"nominal"}}}]},
{"width":182,"height":52,"encoding":{"x":{"field":"wl","type":"quantitative","scale":{"domain":[1.2772,1.2875],"nice":false,"zero":false},"axis":{"values":[1.27725,1.278,1.27875,1.2795,1.28025,1.281,1.28175,1.2825,1.28325,1.284,1.28475,1.2855,1.28625,1.287],"labels":false,"title":null,"offset":-3,"tickSize":3}},"y":{"field":"flux","type":"quantitative","scale":{"domain":[0.85,1.11],"nice":false,"zero":false},"axis":null}},
"layer":[{"data":{"name":"spectra"},"transform":[{"filter":"datum.date==='20150427'"}],"mark":{"type":"line","color":"#ff1a1a","strokeWidth":1,"clip":true}},{"data":{"name":"labels"},"transform":[{"filter":"datum.date==='20150427'"}],"mark":{"type":"text","align":"left","baseline":"middle","fontSize":8,"color":"#1a1a1a"},"encoding":{"text":{"field":"date","type":"nominal"}}}]},
{"width":182,"height":52,"encoding":{"x":{"field":"wl","type":"quantitative","scale":{"domain":[1.2772,1.2875],"nice":false,"zero":false},"axis":{"values":[1.27725,1.278,1.27875,1.2795,1.28025,1.281,1.28175,1.2825,1.28325,1.284,1.28475,1.2855,1.28625,1.287],"labels":false,"title":null,"offset":-3,"tickSize":3}},"y":{"field":"flux","type":"quantitative","scale":{"domain":[0.85,1.11],"nice":false,"zero":false},"axis":null}},
"layer":[{"data":{"name":"spectra"},"transform":[{"filter":"datum.date==='20150526'"}],"mark":{"type":"line","color":"#ff1a1a","strokeWidth":1,"clip":true}},{"data":{"name":"labels"},"transform":[{"filter":"datum.date==='20150526'"}],"mark":{"type":"text","align":"left","baseline":"middle","fontSize":8,"color":"#1a1a1a"},"encoding":{"text":{"field":"date","type":"nominal"}}}]},
{"width":182,"height":52,"encoding":{"x":{"field":"wl","type":"quantitative","scale":{"domain":[1.2772,1.2875],"nice":false,"zero":false},"axis":{"values":[1.27725,1.278,1.27875,1.2795,1.28025,1.281,1.28175,1.2825,1.28325,1.284,1.28475,1.2855,1.28625,1.287],"labels":false,"title":null,"offset":-3,"tickSize":3}},"y":{"field":"flux","type":"quantitative","scale":{"domain":[0.85,1.11],"nice":false,"zero":false},"axis":null}},
"layer":[{"data":{"name":"spectra"},"transform":[{"filter":"datum.date==='20150623'"}],"mark":{"type":"line","color":"#ff1a1a","strokeWidth":1,"clip":true}},{"data":{"name":"labels"},"transform":[{"filter":"datum.date==='20150623'"}],"mark":{"type":"text","align":"left","baseline":"middle","fontSize":8,"color":"#1a1a1a"},"encoding":{"text":{"field":"date","type":"nominal"}}}]},
{"width":182,"height":52,"encoding":{"x":{"field":"wl","type":"quantitative","scale":{"domain":[1.2772,1.2875],"nice":false,"zero":false},"axis":{"values":[1.27725,1.278,1.27875,1.2795,1.28025,1.281,1.28175,1.2825,1.28325,1.284,1.28475,1.2855,1.28625,1.287],"labels":false,"title":null,"offset":-3,"tickSize":3}},"y":{"field":"flux","type":"quantitative","scale":{"domain":[0.85,1.11],"nice":false,"zero":false},"axis":{"values":[0.9,1.0,1.1],"format":".1f","title":null}}},
"layer":[{"data":{"name":"spectra"},"transform":[{"filter":"datum.date==='20150727'"}],"mark":{"type":"line","color":"#ff1a1a","strokeWidth":1,"clip":true}},{"data":{"name":"labels"},"transform":[{"filter":"datum.date==='20150727'"}],"mark":{"type":"text","align":"left","baseline":"middle","fontSize":8,"color":"#1a1a1a"},"encoding":{"text":{"field":"date","type":"nominal"}}}]},
{"width":182,"height":52,"encoding":{"x":{"field":"wl","type":"quantitative","scale":{"domain":[1.2772,1.2875],"nice":false,"zero":false},"axis":{"values":[1.27725,1.278,1.27875,1.2795,1.28025,1.281,1.28175,1.2825,1.28325,1.284,1.28475,1.2855,1.28625,1.287],"labels":false,"title":null,"offset":-3,"tickSize":3}},"y":{"field":"flux","type":"quantitative","scale":{"domain":[0.85,1.11],"nice":false,"zero":false},"axis":null}},
"layer":[{"data":{"name":"spectra"},"transform":[{"filter":"datum.date==='20150817'"}],"mark":{"type":"line","color":"#ff1a1a","strokeWidth":1,"clip":true}},{"data":{"name":"labels"},"transform":[{"filter":"datum.date==='20150817'"}],"mark":{"type":"text","align":"left","baseline":"middle","fontSize":8,"color":"#1a1a1a"},"encoding":{"text":{"field":"date","type":"nominal"}}}]},
{"width":182,"height":52,"encoding":{"x":{"field":"wl","type":"quantitative","scale":{"domain":[1.2772,1.2875],"nice":false,"zero":false},"axis":{"values":[1.27725,1.278,1.27875,1.2795,1.28025,1.281,1.28175,1.2825,1.28325,1.284,1.28475,1.2855,1.28625,1.287],"labels":false,"title":null,"offset":-3,"tickSize":3}},"y":{"field":"flux","type":"quantitative","scale":{"domain":[0.85,1.11],"nice":false,"zero":false},"axis":null}},
"layer":[{"data":{"name":"spectra"},"transform":[{"filter":"datum.date==='20151013'"}],"mark":{"type":"line","color":"#ff1a1a","strokeWidth":1,"clip":true}},{"data":{"name":"labels"},"transform":[{"filter":"datum.date==='20151013'"}],"mark":{"type":"text","align":"left","baseline":"middle","fontSize":8,"color":"#1a1a1a"},"encoding":{"text":{"field":"date","type":"nominal"}}}]},
{"width":182,"height":52,"encoding":{"x":{"field":"wl","type":"quantitative","scale":{"domain":[1.2772,1.2875],"nice":false,"zero":false},"axis":{"values":[1.27725,1.278,1.27875,1.2795,1.28025,1.281,1.28175,1.2825,1.28325,1.284,1.28475,1.2855,1.28625,1.287],"labels":false,"title":null,"offset":-3,"tickSize":3}},"y":{"field":"flux","type":"quantitative","scale":{"domain":[0.85,1.11],"nice":false,"zero":false},"axis":null}},
"layer":[{"data":{"name":"spectra"},"transform":[{"filter":"datum.date==='20170702'"}],"mark":{"type":"line","color":"#ff1a1a","strokeWidth":1,"clip":true}},{"data":{"name":"labels"},"transform":[{"filter":"datum.date==='20170702'"}],"mark":{"type":"text","align":"left","baseline":"middle","fontSize":8,"color":"#1a1a1a"},"encoding":{"text":{"field":"date","type":"nominal"}}}]},
{"width":182,"height":52,"encoding":{"x":{"field":"wl","type":"quantitative","scale":{"domain":[1.2772,1.2875],"nice":false,"zero":false},"axis":{"values":[1.27725,1.278,1.27875,1.2795,1.28025,1.281,1.28175,1.2825,1.28325,1.284,1.28475,1.2855,1.28625,1.287],"labelExpr":"abs(datum.value*1000-round(datum.value*1000))<0.01 && round(datum.value*1000)%3==0 ? format(datum.value,'.3f') : ''","title":"Wavelength in μm","offset":-3,"tickSize":3}},"y":{"field":"flux","type":"quantitative","scale":{"domain":[0.85,1.11],"nice":false,"zero":false},"axis":{"values":[0.9,1.0,1.1],"format":".1f","title":"Normalised Flux"}}},
"layer":[{"data":{"name":"spectra"},"transform":[{"filter":"datum.date==='20170914'"}],"mark":{"type":"line","color":"#ff1a1a","strokeWidth":1,"clip":true}},{"data":{"name":"labels"},"transform":[{"filter":"datum.date==='20170914'"}],"mark":{"type":"text","align":"left","baseline":"middle","fontSize":8,"color":"#1a1a1a"},"encoding":{"text":{"field":"date","type":"nominal"}}}]},
{"width":182,"height":52,"encoding":{"x":{"field":"wl","type":"quantitative","scale":{"domain":[1.2772,1.2875],"nice":false,"zero":false},"axis":{"values":[1.27725,1.278,1.27875,1.2795,1.28025,1.281,1.28175,1.2825,1.28325,1.284,1.28475,1.2855,1.28625,1.287],"labelExpr":"abs(datum.value*1000-round(datum.value*1000))<0.01 && round(datum.value*1000)%3==0 ? format(datum.value,'.3f') : ''","title":"Wavelength in μm","offset":-3,"tickSize":3}},"y":{"field":"flux","type":"quantitative","scale":{"domain":[0.85,1.11],"nice":false,"zero":false},"axis":null}},
"layer":[{"data":{"name":"spectra"},"transform":[{"filter":"datum.date==='20181107'"}],"mark":{"type":"line","color":"#ff1a1a","strokeWidth":1,"clip":true}},{"data":{"name":"labels"},"transform":[{"filter":"datum.date==='20181107'"}],"mark":{"type":"text","align":"left","baseline":"middle","fontSize":8,"color":"#1a1a1a"},"encoding":{"text":{"field":"date","type":"nominal"}}}]},
{"width":182,"height":52,"encoding":{"x":{"field":"wl","type":"quantitative","scale":{"domain":[1.2772,1.2875],"nice":false,"zero":false},"axis":{"values":[1.27725,1.278,1.27875,1.2795,1.28025,1.281,1.28175,1.2825,1.28325,1.284,1.28475,1.2855,1.28625,1.287],"labelExpr":"abs(datum.value*1000-round(datum.value*1000))<0.01 && round(datum.value*1000)%3==0 ? format(datum.value,'.3f') : ''","title":"Wavelength in μm","offset":-3,"tickSize":3}},"y":{"field":"flux","type":"quantitative","scale":{"domain":[0.85,1.11],"nice":false,"zero":false},"axis":null}},
"layer":[{"data":{"name":"spectra"},"transform":[{"filter":"datum.date==='20201025'"}],"mark":{"type":"line","color":"#ff1a1a","strokeWidth":1,"clip":true}},{"data":{"name":"labels"},"transform":[{"filter":"datum.date==='20201025'"}],"mark":{"type":"text","align":"left","baseline":"middle","fontSize":8,"color":"#1a1a1a"},"encoding":{"text":{"field":"date","type":"nominal"}}}]},
{"width":182,"height":52,"encoding":{"x":{"field":"wl","type":"quantitative","scale":{"domain":[1.2772,1.2875],"nice":false,"zero":false},"axis":{"values":[1.27725,1.278,1.27875,1.2795,1.28025,1.281,1.28175,1.2825,1.28325,1.284,1.28475,1.2855,1.28625,1.287],"labelExpr":"abs(datum.value*1000-round(datum.value*1000))<0.01 && round(datum.value*1000)%3==0 ? format(datum.value,'.3f') : ''","title":"Wavelength in μm","offset":-3,"tickSize":3}},"y":{"field":"flux","type":"quantitative","scale":{"domain":[0.85,1.11],"nice":false,"zero":false},"axis":null}},
"layer":[{"data":{"name":"spectra"},"transform":[{"filter":"datum.date==='20201110'"}],"mark":{"type":"line","color":"#ff1a1a","strokeWidth":1,"clip":true}},{"data":{"name":"labels"},"transform":[{"filter":"datum.date==='20201110'"}],"mark":{"type":"text","align":"left","baseline":"middle","fontSize":8,"color":"#1a1a1a"},"encoding":{"text":{"field":"date","type":"nominal"}}}]}
],
"config":{
"font":"DejaVu Sans",
"view":{"stroke":"#aaaaaa","strokeWidth":1.6},
"axis":{"domain":false,"grid":false,"labelFont":"DejaVu Sans","labelFontSize":10,"labelColor":"#000000","titleFont":"DejaVu Sans","titleFontSize":12,"titleFontWeight":"normal","titleColor":"#000000","tickColor":"#444444","labelFlush":false,"labelOverlap":false,"labelBound":false},
"axisX":{"labelPadding":1.5,"titlePadding":1,"labelBaseline":"top"},
"axisY":{"ticks":false,"labelPadding":3,"titlePadding":3},
"title":{"font":"DejaVu Sans","fontSize":11,"fontWeight":"normal","color":"#000000","offset":1}
}
}
